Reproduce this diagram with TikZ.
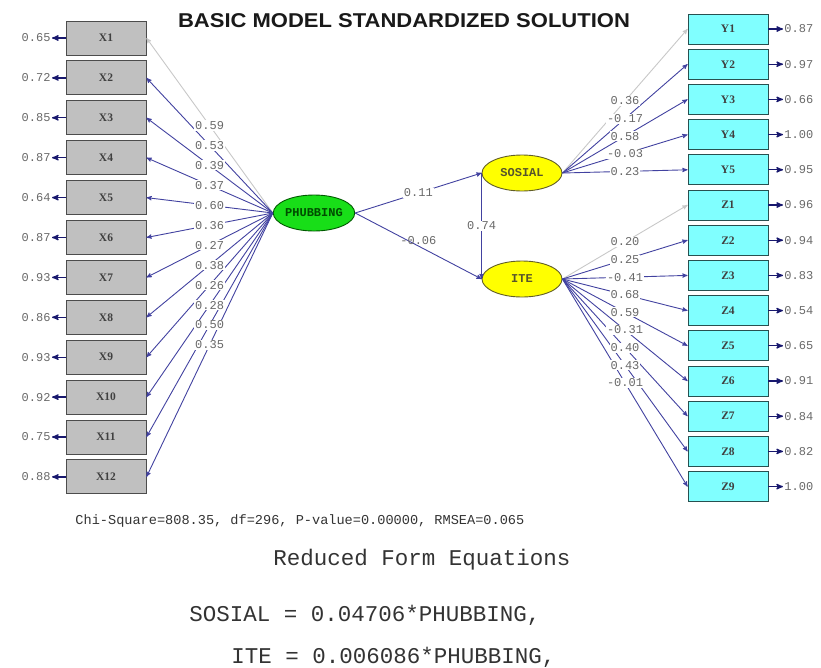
\documentclass[tikz,border=0pt]{standalone}
\usepackage{fontspec}
\setmainfont{Liberation Serif}
\setmonofont{Liberation Mono}
\newfontfamily\titlefont{Liberation Sans}
\usepackage{xcolor}
\usepackage{graphicx}
\usepackage{tikz}
\usetikzlibrary{arrows,shapes.geometric}
\usetikzlibrary{positioning}

\definecolor{pathblue}{RGB}{66,66,160}
\definecolor{resblue}{RGB}{24,24,110}
\definecolor{fixgrey}{RGB}{200,200,200}
\definecolor{boxgrey}{RGB}{192,192,192}
\definecolor{boxcyan}{RGB}{128,255,255}
\definecolor{latgreen}{RGB}{24,222,24}
\definecolor{latyellow}{RGB}{255,255,0}
\definecolor{numgrey}{RGB}{105,105,105}

\begin{document}
\begin{tikzpicture}[x=1pt,y=-1pt,>=stealth',line width=0.9pt]
	\tikzstyle{xbox}=[draw=black!70, fill=boxgrey, minimum width=80pt, minimum height=34pt, inner sep=0pt, font=\fontsize{11.5}{13}\selectfont\bfseries, text=black!75]
	\tikzstyle{ybox}=[xbox, fill=boxcyan, draw={rgb,255:red,40;green,80;blue,80}, minimum height=30pt]
	\tikzstyle{latent}=[draw, ellipse, minimum width=80pt, minimum height=36pt, inner sep=0pt, font=\ttfamily\bfseries\fontsize{12}{14}\selectfont]
	\tikzstyle{num}=[font=\ttfamily\fontsize{12}{14}\selectfont, text=numgrey, inner sep=1pt]
	\tikzstyle{lbl}=[num, fill=white, pos=0.5]
	\tikzstyle{res}=[->, resblue, line width=1.3pt]
	\tikzstyle{txt}=[font=\ttfamily, text=black!80, inner sep=0pt, anchor=west]
	\useasboundingbox (0,0) rectangle (821,667);

	\node[font=\titlefont\bfseries\fontsize{20}{22}\selectfont, text=black!90] (title) at (404,21) {\scalebox{1.1}[1]{BASIC MODEL STANDARDIZED SOLUTION}};

	% latent variables
	\node[latent, fill=latgreen, draw=green!35!black, text=green!30!black] (PH) at (314,213) {PHUBBING};
	\node[latent, fill=latyellow, draw=olive!60!black, text=olive!50!black] (SOS) at (522,173) {SOSIAL};
	\node[latent, fill=latyellow, draw=olive!60!black, text=olive!50!black] (ITE) at (522,279) {ITE};

	% indicators
	\foreach \i/\e in {1/0.65, 2/0.72, 3/0.85, 4/0.87, 5/0.64, 6/0.87, 7/0.93, 8/0.86, 9/0.93, 10/0.92, 11/0.75, 12/0.88}{
		\node[xbox] (X\i) at (106,{38+(\i-1)*39.9}) {X\i};
		\node[num, anchor=east] (eX\i) at (52,{38+(\i-1)*39.9}) {\e};
		\draw[res] (X\i) -- (eX\i);
	}
	\foreach \i/\e in {1/0.87, 2/0.97, 3/0.66, 4/1.00, 5/0.95}{
		\node[ybox] (Y\i) at (728,{29+(\i-1)*35.2}) {Y\i};
		\node[num, anchor=west] (eY\i) at (783,{29+(\i-1)*35.2}) {\e};
		\draw[res] (Y\i) -- (eY\i);
	}
	\foreach \i/\e in {1/0.96, 2/0.94, 3/0.83, 4/0.54, 5/0.65, 6/0.91, 7/0.84, 8/0.82, 9/1.00}{
		\node[ybox] (Z\i) at (728,{29+(\i+4)*35.2}) {Z\i};
		\node[num, anchor=west] (eZ\i) at (783,{29+(\i+4)*35.2}) {\e};
		\draw[res] (Z\i) -- (eZ\i);
	}

	% loadings
	\foreach \i/\c in {1/fixgrey, 2/pathblue, 3/pathblue, 4/pathblue, 5/pathblue, 6/pathblue, 7/pathblue, 8/pathblue, 9/pathblue, 10/pathblue, 11/pathblue, 12/pathblue}
		\draw[->, \c] (PH.west) -- (X\i.east);
	\foreach \i/\c in {1/fixgrey, 2/pathblue, 3/pathblue, 4/pathblue, 5/pathblue}
		\draw[->, \c] (SOS.east) -- (Y\i.west);
	\foreach \i/\c in {1/fixgrey, 2/pathblue, 3/pathblue, 4/pathblue, 5/pathblue, 6/pathblue, 7/pathblue, 8/pathblue, 9/pathblue}
		\draw[->, \c] (ITE.east) -- (Z\i.west);

	\foreach \i/\l in {1/0.59, 2/0.53, 3/0.39, 4/0.37, 5/0.60, 6/0.36, 7/0.27, 8/0.38, 9/0.26, 10/0.28, 11/0.50, 12/0.35}
		\path (PH.west) -- (X\i.east) node[lbl] {\l};
	\foreach \i/\l in {1/0.36, 2/-0.17, 3/0.58, 4/-0.03, 5/0.23}
		\path (SOS.east) -- (Y\i.west) node[lbl] {\l};
	\foreach \i/\l in {1/0.20, 2/0.25, 3/-0.41, 4/0.68, 5/0.59, 6/-0.31, 7/0.40, 8/0.43, 9/-0.01}
		\path (ITE.east) -- (Z\i.west) node[lbl] {\l};

	% structural paths
	\draw[->, pathblue] (PH.east) -- (SOS.west) node[lbl] {0.11};
	\draw[->, pathblue] (PH.east) -- (ITE.west) node[num, midway, above] {-0.06};
	\draw[->, pathblue] (SOS.west) -- (ITE.west) node[lbl] {0.74};

	% fit and equations
	\node[txt, font=\ttfamily\fontsize{13.6}{16}\selectfont] (fit) at (75,521) {Chi-Square=808.35, df=296, P-value=0.00000, RMSEA=0.065};
	\node[txt, font=\ttfamily\fontsize{22.5}{26}\selectfont] (rfe) at (273,560) {Reduced Form Equations};
	\node[txt, font=\ttfamily\fontsize{22.5}{26}\selectfont] (eq1) at (189,615) {SOSIAL = 0.04706*PHUBBING,};
	\node[txt, font=\ttfamily\fontsize{22.5}{26}\selectfont] (eq2) at (231,657) {ITE = 0.006086*PHUBBING,};
\end{tikzpicture}
\end{document}
